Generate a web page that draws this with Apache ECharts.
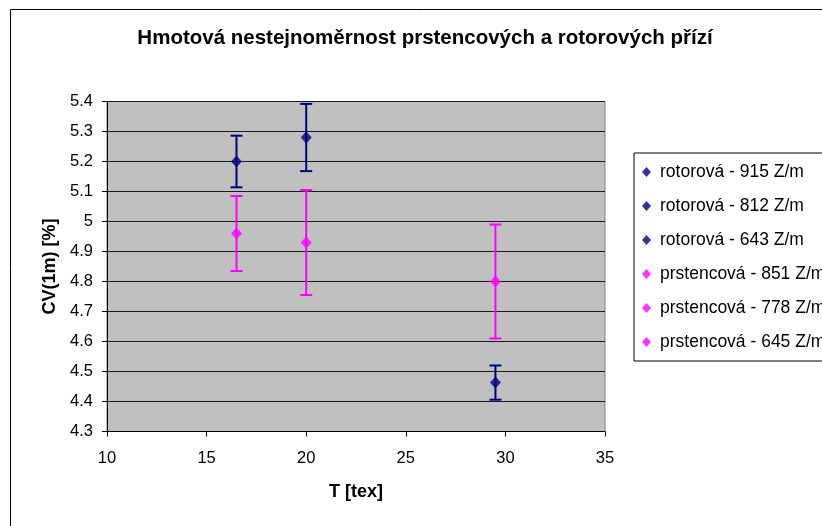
<!DOCTYPE html>
<html>
<head>
<meta charset="utf-8">
<title>Hmotová nestejnoměrnost</title>
<script src="https://cdn.jsdelivr.net/npm/echarts@6/dist/echarts.min.js"></script>
<style>
  html, body { margin: 0; padding: 0; background: #fff; }
  #chart { width: 822px; height: 526px; }
</style>
</head>
<body>
<div id="chart"></div>
<script>
// Yarn fineness T [tex] and mass irregularity CV(1m) [%] with standard deviations
const seriesNames = [
  'rotorová - 915 Z/m', 'rotorová - 812 Z/m', 'rotorová - 643 Z/m',
  'prstencová - 851 Z/m', 'prstencová - 778 Z/m', 'prstencová - 645 Z/m'
];
const tex = [16.5, 20, 29.5, 16.5, 20, 29.5];
const cvValues = [5.2, 5.28, 4.463, 4.96, 4.93, 4.8];
const cvErrors = [0.086, 0.112, 0.057, 0.125, 0.175, 0.19];
const seriesColors = ['#000080', '#000080', '#000080', '#FF00FF', '#FF00FF', '#FF00FF'];

const FONT = '"Liberation Sans", Arial, sans-serif';

const chart = echarts.init(document.getElementById('chart'), null, { renderer: 'canvas' });

// vertical error bar with end caps
function errorBarRenderer(color) {
  return function (params, api) {
    const x = api.value(0);
    const lo = api.coord([x, api.value(1)]);
    const hi = api.coord([x, api.value(2)]);
    const hw = 6;
    const style = { stroke: color, lineWidth: 2 };
    return {
      type: 'group',
      children: [
        { type: 'line', shape: { x1: lo[0], y1: lo[1], x2: hi[0], y2: hi[1] }, style: style },
        { type: 'line', shape: { x1: lo[0] - hw, y1: lo[1], x2: lo[0] + hw, y2: lo[1] }, style: style },
        { type: 'line', shape: { x1: hi[0] - hw, y1: hi[1], x2: hi[0] + hw, y2: hi[1] }, style: style }
      ]
    };
  };
}

const series = [];
seriesNames.forEach(function (name, i) {
  series.push({
    name: name + ' (sd)',
    type: 'custom',
    z: 2,
    renderItem: errorBarRenderer(seriesColors[i]),
    data: [[tex[i], cvValues[i] - cvErrors[i], cvValues[i] + cvErrors[i]]],
    encode: { x: 0, y: [1, 2] },
    silent: true
  });
});
seriesNames.forEach(function (name, i) {
  series.push({
    name: name,
    type: 'scatter',
    z: 3,
    symbol: 'diamond',
    symbolSize: [11, 12],
    itemStyle: { color: seriesColors[i] },
    data: [[tex[i], cvValues[i]]]
  });
});

chart.setOption({
  animation: false,
  backgroundColor: '#ffffff',
  textStyle: { fontFamily: FONT },
  grid: {
    left: 107, right: 217, top: 101.5, bottom: 94.5,
    show: true,
    backgroundColor: '#C0C0C0',
    borderColor: '#808080',
    borderWidth: 1
  },
  xAxis: {
    type: 'value',
    min: 10, max: 35, interval: 5,
    name: 'T [tex]',
    nameLocation: 'middle',
    nameGap: 52,
    nameTextStyle: { fontFamily: FONT, fontSize: 18, fontWeight: 'bold', color: '#000' },
    axisLine: { show: true, lineStyle: { color: '#000', width: 1 } },
    axisTick: { show: true, inside: false, length: 5, lineStyle: { color: '#000' } },
    axisLabel: { margin: 18, fontFamily: FONT, fontSize: 16.5, color: '#000' },
    splitLine: { show: false }
  },
  yAxis: {
    type: 'value',
    min: 4.3, max: 5.4, interval: 0.1,
    name: 'CV(1m) [%]',
    nameLocation: 'middle',
    nameGap: 43,
    nameTextStyle: { fontFamily: FONT, fontSize: 18, fontWeight: 'bold', color: '#000' },
    axisLine: { show: true, lineStyle: { color: '#000', width: 1 } },
    axisTick: { show: true, inside: false, length: 5, lineStyle: { color: '#000' } },
    axisLabel: {
      margin: 14, fontFamily: FONT, fontSize: 16.5, color: '#000',
      formatter: function (v) { return String(Math.round(v * 10) / 10); }
    },
    splitLine: { show: true, lineStyle: { color: '#1a1a1a', width: 1 } }
  },
  legend: {
    data: seriesNames.map(function (n) { return { name: n, icon: 'diamond' }; }),
    orient: 'vertical',
    left: 634,
    top: 153,
    padding: [9, 60, 9, 8],
    itemGap: 14,
    itemWidth: 9,
    itemHeight: 10,
    backgroundColor: '#ffffff',
    borderColor: '#000',
    borderWidth: 1,
    textStyle: { fontFamily: FONT, fontSize: 17.5, color: '#000', lineHeight: 20, padding: [0, 0, 0, 4] },
    selectedMode: false
  },
  graphic: [
    {
      type: 'rect',
      silent: true,
      z: 100,
      shape: { x: 10.5, y: 9.5, width: 900, height: 600 },
      style: { fill: 'none', stroke: '#000', lineWidth: 1 }
    },
    {
      type: 'text',
      silent: true,
      z: 100,
      style: {
        text: 'Hmotová nestejnoměrnost prstencových a rotorových přízí',
        x: 425, y: 38,
        textAlign: 'center',
        textVerticalAlign: 'middle',
        font: 'bold 20.5px ' + FONT,
        fill: '#000'
      }
    }
  ],
  series: series
});
</script>
</body>
</html>
